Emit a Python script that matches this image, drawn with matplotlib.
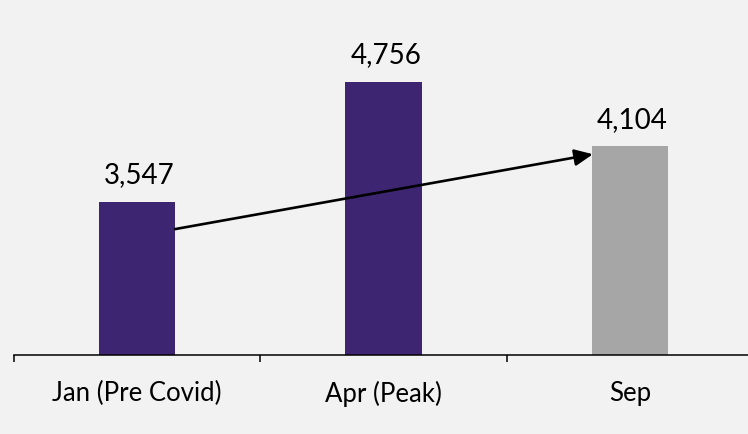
import matplotlib
matplotlib.use("Agg")
import matplotlib.pyplot as plt

categories = ["Jan (Pre Covid)", "Apr (Peak)", "Sep"]
values = [3547, 4756, 4104]
bar_colors = ["#3E2572", "#3E2572", "#A6A6A6"]
value_labels = ["3,547", "4,756", "4,104"]
arrow_start = (0.154, 3270)
arrow_end = (1.85, 4025)

plt.rcParams['font.family'] = ['Lato', 'DejaVu Sans']

W, H = 748, 435
fig = plt.figure(figsize=(W / 100, H / 100), dpi=100, facecolor="#F2F2F2")
left_px, right_px, bottom_px, top_px = 14, 753, 356, 9
ax = fig.add_axes([left_px / W, (H - bottom_px) / H, (right_px - left_px) / W, (bottom_px - top_px) / H])
ax.set_facecolor("#F2F2F2")

x = list(range(len(categories)))
bars = ax.bar(x, values, width=0.31, color=bar_colors, zorder=2)
ax.set_xlim(-0.5, len(categories) - 0.5)
ax.set_ylim(2000, 5500)

for xi, v, lab in zip(x, values, value_labels):
    ax.annotate(lab, (xi + 0.01, v), xytext=(0, 10.5), textcoords="offset points",
                ha="center", va="bottom", fontsize=20, color="#000000")

ax.annotate("", xy=arrow_end, xytext=arrow_start,
            arrowprops=dict(arrowstyle="-|>,head_length=1.1,head_width=0.5",
                            lw=1.9, color="black", shrinkA=0, shrinkB=0), zorder=3)

for s in ["left", "right", "top"]:
    ax.spines[s].set_visible(False)
ax.spines["bottom"].set_linewidth(1.1)
ax.spines["bottom"].set_color("black")
ax.set_yticks([])
ax.set_xticks([i - 0.5 for i in range(len(categories) + 1)])
ax.set_xticklabels([])
ax.tick_params(axis="x", which="major", length=5, width=1.1, color="black")
ax.set_xticks(x, minor=True)
ax.set_xticklabels(categories, minor=True, fontsize=18.5)
ax.tick_params(axis="x", which="minor", length=0, pad=18)

fig.savefig("out.png", dpi=100, facecolor=fig.get_facecolor())
